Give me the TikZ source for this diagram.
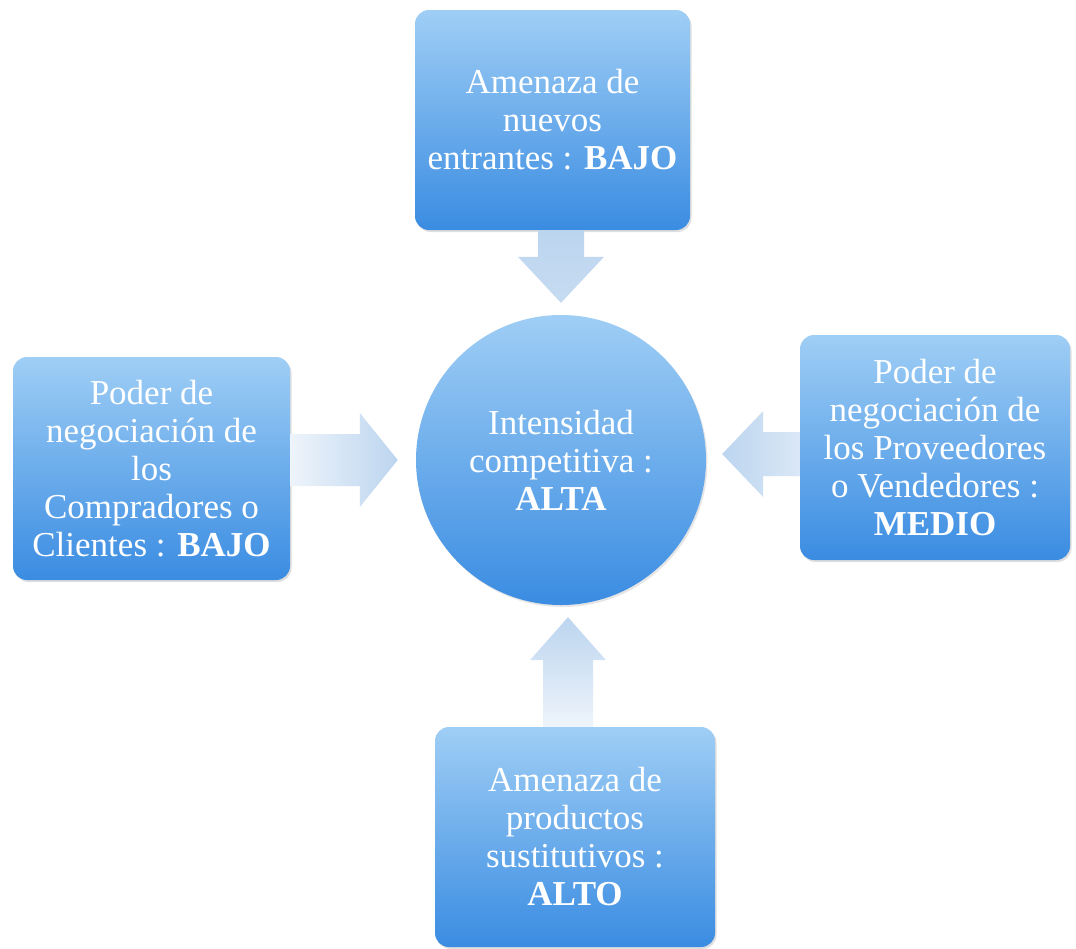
\documentclass[tikz,border=0pt]{standalone}
\usepackage{fontspec}
\setmainfont{Liberation Serif}
\usetikzlibrary{calc,shadows}
\definecolor{boxtop}{HTML}{9FCEF5}
\definecolor{boxbot}{HTML}{3A8CE2}
\definecolor{arrlight}{HTML}{EEF4FB}
\definecolor{arrdark}{HTML}{BCD5EF}
\tikzset{
  box/.style={rectangle, rounded corners=14pt, top color=boxtop, bottom color=boxbot,
    text=white, align=center, inner sep=0pt,
    font=\fontsize{35}{38}\selectfont,
    drop shadow={opacity=.25, shadow xshift=1.5pt, shadow yshift=-2pt}},
  hub/.style={circle, minimum size=290pt, top color=boxtop, bottom color=boxbot,
    text=white, align=center, inner sep=0pt,
    font=\fontsize{35}{38}\selectfont,
    drop shadow={opacity=.2, shadow xshift=1.5pt, shadow yshift=-2pt}},
  blockarrow/.style={draw=none}
}
\begin{document}
\begin{tikzpicture}[x=1pt,y=-1pt]
\useasboundingbox (0,0) rectangle (1076,948);
\fill[white] (0,0) rectangle (1076,948);

\node[hub] (c) at (561,460) {Intensidad\\competitiva :\\\textbf{ALTA}};
\node[box, minimum width=275pt, minimum height=220pt] (top) at (552.5,120)
  {Amenaza de\\nuevos\\entrantes : \textbf{BAJO}};
\node[box, minimum width=277pt, minimum height=223pt] (left) at (151.5,468.5)
  {Poder de\\negociación de\\los\\Compradores o\\Clientes : \textbf{BAJO}};
\node[box, minimum width=270pt, minimum height=225pt] (right) at (935,447.5)
  {Poder de\\negociación de\\los Proveedores\\o Vendedores :\\\textbf{MEDIO}};
\node[box, minimum width=280pt, minimum height=220pt] (bottom) at (575,837)
  {Amenaza de\\productos\\sustitutivos :\\\textbf{ALTO}};

% top arrow (down)
\coordinate (tS) at (top.south -| c.center);
\coordinate (tE) at ($(c.north)+(0,-12)$);
\shade[blockarrow, top color=arrdark, bottom color=arrdark!85]
  ($(tS)+(-23,0)$) -- ($(tS)+(23,0)$) -- ($(tE)+(23,-46)$) -- ($(tE)+(43,-46)$)
  -- (tE) -- ($(tE)+(-43,-46)$) -- ($(tE)+(-23,-46)$) -- cycle;

% left arrow (right)
\coordinate (lS) at (left.east |- c.center);
\coordinate (lE) at ($(c.west)+(-18,0)$);
\shade[blockarrow, left color=arrlight, right color=arrdark]
  ($(lS)+(0,-26)$) -- ($(lE)+(-38,-26)$) -- ($(lE)+(-38,-47)$) -- (lE)
  -- ($(lE)+(-38,47)$) -- ($(lE)+(-38,26)$) -- ($(lS)+(0,26)$) -- cycle;

% right arrow (left)
\coordinate (rS) at ($(right.west |- c.center)+(0,-6)$);
\coordinate (rE) at ($(c.east)+(16,-6)$);
\shade[blockarrow, right color=arrlight!60!arrdark, left color=arrdark]
  ($(rS)+(0,-22)$) -- ($(rE)+(41,-22)$) -- ($(rE)+(41,-43)$) -- (rE)
  -- ($(rE)+(41,43)$) -- ($(rE)+(41,22)$) -- ($(rS)+(0,22)$) -- cycle;

% bottom arrow (up)
\coordinate (bS) at ($(bottom.north)+(-7,0)$);
\coordinate (bE) at ($(c.south)+(7,12)$);
\shade[blockarrow, bottom color=arrlight, top color=arrdark]
  ($(bS)+(-25,0)$) -- ($(bS)+(25,0)$) -- ($(bE)+(25,43)$) -- ($(bE)+(38,43)$)
  -- (bE) -- ($(bE)+(-38,43)$) -- ($(bE)+(-25,43)$) -- cycle;
\end{tikzpicture}
\end{document}
